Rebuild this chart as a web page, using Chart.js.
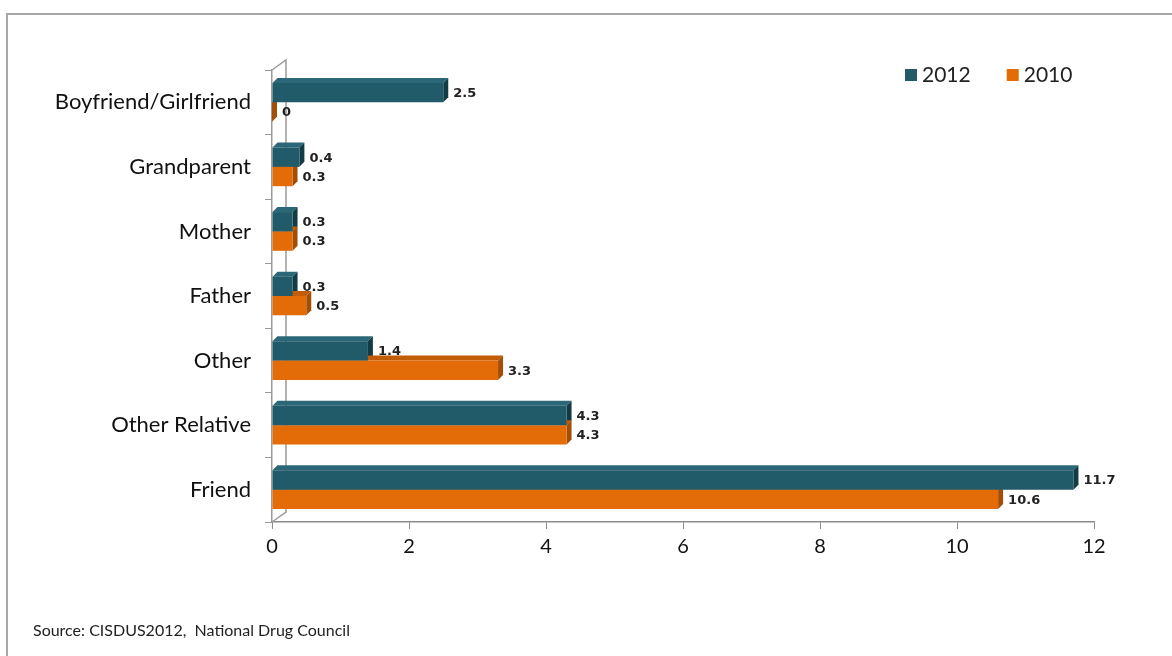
<!DOCTYPE html>
<html>
<head>
<meta charset="utf-8">
<script src="https://cdn.jsdelivr.net/npm/chart.js@4.4.1/dist/chart.umd.min.js"></script>
<style>
  html, body { margin: 0; padding: 0; background: #fff; }
  #wrap { position: relative; width: 1172px; height: 656px; overflow: hidden; }
  #frame { position: absolute; left: 6px; top: 13px; width: 1180px; height: 660px; border: 2px solid #a6a6a6; box-sizing: border-box; }
  #source { position: absolute; left: 33px; top: 620px; font: 16px Lato, sans-serif; color: #222; }
  canvas { position: absolute; left: 0; top: 0; }
</style>
</head>
<body>
<div id="wrap">
  <div id="frame"></div>
  <canvas id="myChart" width="1172" height="656"></canvas>
  <div id="source">Source: CISDUS2012,&nbsp; National Drug Council</div>
</div>
<script>
// categories and values
var categories = ['Boyfriend/Girlfriend', 'Grandparent', 'Mother', 'Father', 'Other', 'Other Relative', 'Friend'];
var values2012 = [2.5, 0.4, 0.3, 0.3, 1.4, 4.3, 11.7];
var values2010 = [0, 0.3, 0.3, 0.5, 3.3, 4.3, 10.6];
var xTicks = [0, 2, 4, 6, 8, 10, 12];

var depth = 5; // fake 3d depth

// side/top faces of the bars, drawn behind the fronts
var barFaces = {
    id: 'barFaces',
    beforeDatasetsDraw: function(chart) {
        var ctx = chart.ctx;
        var area = chart.chartArea;
        // back wall
        ctx.save();
        ctx.strokeStyle = '#9a9a9a';
        ctx.lineWidth = 1.5;
        ctx.beginPath();
        ctx.moveTo(area.left, area.top);
        ctx.lineTo(area.left + 14, area.top - 10);
        ctx.lineTo(area.left + 14, area.bottom - 10);
        ctx.lineTo(area.left, area.bottom);
        ctx.stroke();
        ctx.restore();

        chart.data.datasets.forEach(function(ds, i) {
            var meta = chart.getDatasetMeta(i);
            meta.data.forEach(function(bar) {
                var p = bar.getProps(['x', 'y', 'base', 'height'], true);
                var top = p.y - p.height / 2, bottom = p.y + p.height / 2;
                ctx.save();
                ctx.fillStyle = ds.topColor;
                ctx.beginPath();
                ctx.moveTo(p.base, top);
                ctx.lineTo(p.base + depth, top - depth);
                ctx.lineTo(p.x + depth, top - depth);
                ctx.lineTo(p.x, top);
                ctx.closePath();
                ctx.fill();
                ctx.fillStyle = ds.sideColor;
                ctx.beginPath();
                ctx.moveTo(p.x, top);
                ctx.lineTo(p.x + depth, top - depth);
                ctx.lineTo(p.x + depth, bottom - depth);
                ctx.lineTo(p.x, bottom);
                ctx.closePath();
                ctx.fill();
                ctx.restore();
            });
        });
    },
    afterDatasetsDraw: function(chart) {
        var ctx = chart.ctx;
        ctx.save();
        ctx.font = 'bold 13px "DejaVu Sans"';
        ctx.fillStyle = '#222';
        ctx.textBaseline = 'middle';
        ctx.textAlign = 'left';
        chart.data.datasets.forEach(function(ds, i) {
            var meta = chart.getDatasetMeta(i);
            meta.data.forEach(function(bar, j) {
                var p = bar.getProps(['x', 'y'], true);
                ctx.fillText(String(ds.data[j]), p.x + depth + 5, p.y + 1);
            });
        });
        ctx.restore();
    },
    afterDraw: function(chart) {
        // legend in the top right corner
        var ctx = chart.ctx;
        ctx.save();
        ctx.font = '21px Lato';
        ctx.textBaseline = 'middle';
        var x = 905, y = 75;
        chart.data.datasets.forEach(function(ds) {
            ctx.fillStyle = ds.backgroundColor;
            ctx.fillRect(x, y - 6, 12, 12);
            ctx.fillStyle = '#222';
            ctx.fillText(ds.label, x + 17, y);
            x += 17 + ctx.measureText(ds.label).width + 36;
        });
        ctx.restore();
    }
};

var ctx = document.getElementById('myChart').getContext('2d');
var myChart = new Chart(ctx, {
    type: 'bar',
    data: {
        labels: categories,
        datasets: [{
            label: '2012',
            data: values2012,
            backgroundColor: '#215A69',
            topColor: '#2c6777',
            sideColor: '#123b46'
        }, {
            label: '2010',
            data: values2010,
            backgroundColor: '#E36C09',
            topColor: '#c25c08',
            sideColor: '#a34e06'
        }]
    },
    options: {
        indexAxis: 'y',
        responsive: false,
        animation: false,
        datasets: {
            bar: { barPercentage: 1, categoryPercentage: 0.6 }
        },
        layout: { padding: { left: 0, top: 70, right: 78, bottom: 84 } },
        plugins: {
            legend: { display: false },
            tooltip: { enabled: false }
        },
        scales: {
            x: {
                min: 0,
                max: 12,
                afterBuildTicks: function(scale) {
                    scale.ticks = xTicks.map(function(v) { return { value: v }; });
                },
                afterFit: function(scale) { scale.height = 50; },
                grid: { drawOnChartArea: false, tickLength: 7, color: '#8c8c8c' },
                border: { color: '#8c8c8c', width: 1.5 },
                ticks: { padding: 6, color: '#111', font: { family: 'Lato', size: 20 } }
            },
            y: {
                afterFit: function(scale) { scale.width = 272; },
                grid: { drawOnChartArea: false, tickLength: 7, color: '#9a9a9a' },
                border: { color: '#9a9a9a', width: 1.5 },
                ticks: { padding: 14, color: '#111', font: { family: 'Lato', size: 22 } }
            }
        }
    },
    plugins: [barFaces]
});
</script>
</body>
</html>
